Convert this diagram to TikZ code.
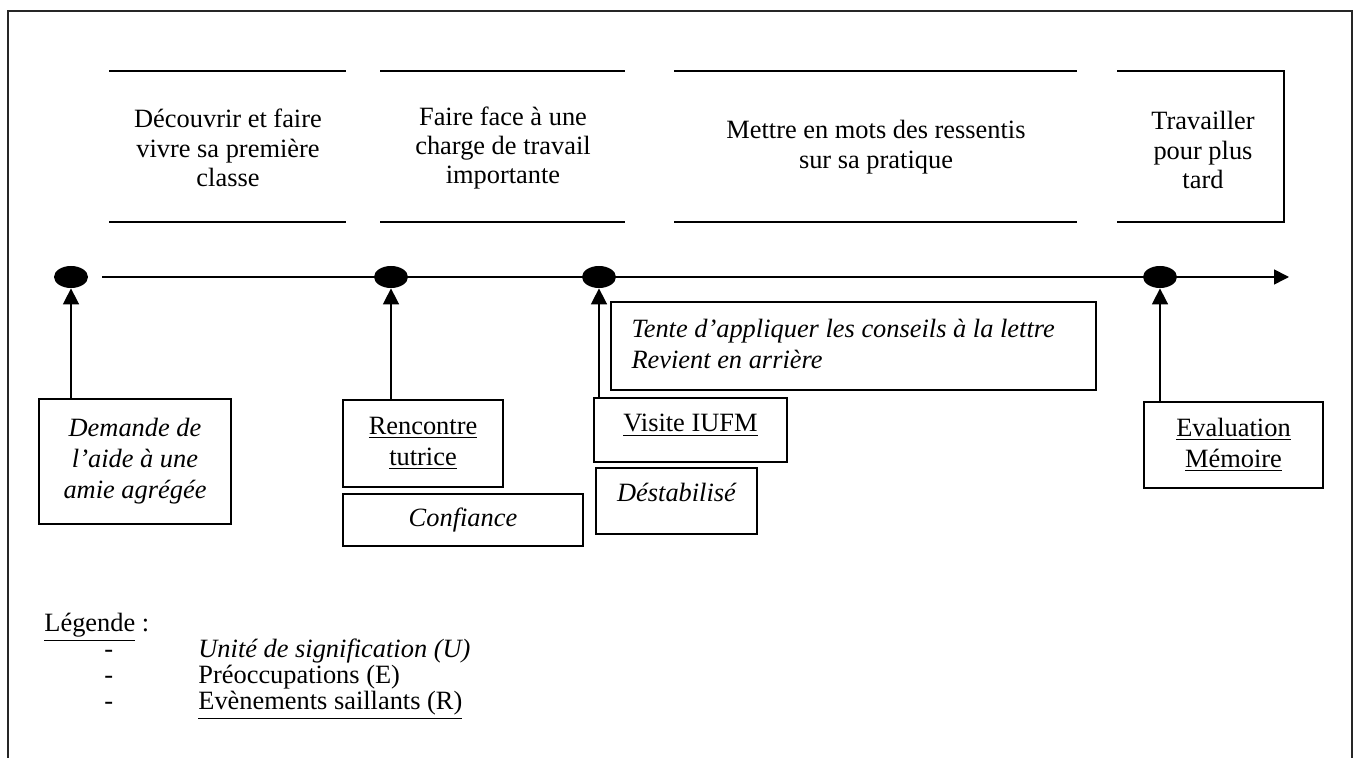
\documentclass[tikz,border=0pt]{standalone}
\usepackage{fontspec}
\setmainfont{Liberation Serif}
\usetikzlibrary{arrows.meta,shapes.geometric}
\begin{document}
\begin{tikzpicture}[x=0.5pt,y=-0.5pt,
  every node/.style={font=\fontsize{13.2}{15.5}\selectfont},
  box/.style={draw, line width=0.9pt, inner sep=0pt, align=center},
  itbox/.style={box, font=\fontsize{13.2}{15.5}\selectfont\itshape},
  phase/.style={align=center, font=\fontsize{13.2}{14.7}\selectfont},
  bar/.style={line width=1pt},
  dot/.style={ellipse, fill=black, minimum width=17pt, minimum height=11pt, inner sep=0pt},
  up/.style={line width=0.8pt, -{Triangle[length=8pt,width=8pt]}},
  axis/.style={line width=0.8pt, -{Triangle[length=7.5pt,width=7.5pt]}},
  frame/.style={line width=1.2pt, black!85},
  leg/.style={anchor=base west, inner sep=0pt}]
\useasboundingbox (0,0) rectangle (1356,758);
% outer frame
\draw[frame] (8,758) -- (8,11) -- (1352,11) -- (1352,758);
% phases
\draw[bar] (109,71) -- (346,71);
\draw[bar] (109,222) -- (346,222);
\node[phase] (p1) at (228,148) {Découvrir et faire\\vivre sa première\\classe};
\draw[bar] (380,71) -- (625,71);
\draw[bar] (380,222) -- (625,222);
\node[phase] (p2) at (503,148) {Faire face à une\\charge de travail\\importante};
\draw[bar] (674,71) -- (1077,71);
\draw[bar] (674,222) -- (1077,222);
\node[phase] (p3) at (876,147) {Mettre en mots des ressentis\\sur sa pratique};
\draw[bar] (1117,71) -- (1284,71) -- (1284,222) -- (1117,222);
\node[phase] (p4) at (1203,150) {Travailler\\pour plus\\tard};
% timeline
\coordinate (t0) at (102,277);
\coordinate (t1) at (1289,277);
\draw[axis] (t0) -- (t1);
\node[dot] (d1) at (71,277) {};
\node[dot] (d2) at (391,277) {};
\node[dot] (d3) at (599,277) {};
\node[dot] (d4) at (1160,277) {};
% boxes
\node[itbox, minimum width=96pt, minimum height=62.5pt] (b1) at (135,461.5) {Demande de\\l’aide à une\\amie agrégée};
\node[box, minimum width=80pt, minimum height=43.5pt] (b2) at (423,443.5) {\underline{Rencontre}\\\underline{tutrice}};
\node[itbox, minimum width=120pt, minimum height=26pt] (b3) at (463,520) {Confiance};
\node[box, minimum width=242.5pt, minimum height=44pt] (b4) at (853.5,346) {};
\node[anchor=west, align=left, inner sep=0pt, font=\fontsize{13.2}{15.5}\selectfont\itshape] (b4t) at ([xshift=10.5pt,yshift=1pt]b4.west) {Tente d’appliquer les conseils à la lettre\\Revient en arrière};
\node[box, minimum width=96.5pt, minimum height=32pt, text depth=7pt] (b5) at (690.5,430) {\underline{Visite IUFM}};
\node[itbox, minimum width=80.5pt, minimum height=33pt, text depth=9pt] (b6) at (676.5,501) {Déstabilisé};
\node[box, minimum width=89.5pt, minimum height=43pt] (b7) at (1233.5,445) {\underline{Evaluation}\\\underline{Mémoire}};
% arrows
\draw[up] (b1.north -| d1) -- (d1.south);
\draw[up] (b2.north -| d2) -- (d2.south);
\draw[up] (b5.north -| d3) -- (d3.south);
\draw[up] (b7.north -| d4) -- (d4.south);
% legend
\node[leg] (lg) at (44,632) {\underline{Légende} :};
\node[leg] (m1) at (104,658) {-};
\node[leg] (m2) at (104,684) {-};
\node[leg] (m3) at (104,710) {-};
\node[leg] (e1) at (198,658) {\itshape Unité de signification (U)};
\node[leg] (e2) at (198,684) {Préoccupations (E)};
\node[leg] (e3) at (198,710) {\underline{Evènements saillants (R)}};
\end{tikzpicture}
\end{document}
